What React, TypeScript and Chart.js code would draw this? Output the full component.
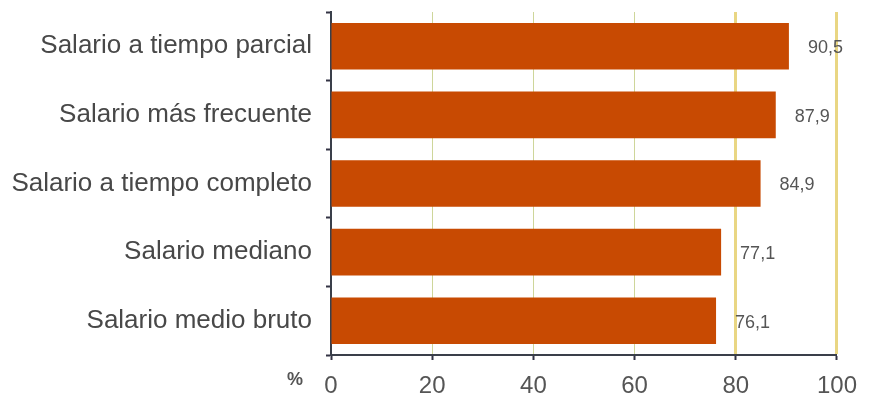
import React, { useEffect, useRef } from "react";
import { Chart, registerables } from "chart.js";

Chart.register(...registerables);

const categories = [
  "Salario a tiempo parcial",
  "Salario más frecuente",
  "Salario a tiempo completo",
  "Salario mediano",
  "Salario medio bruto",
];
const values = [90.5, 87.9, 84.9, 77.1, 76.1];
const valueLabels = ["90,5", "87,9", "84,9", "77,1", "76,1"];
const xTicks = [0, 20, 40, 60, 80, 100];
const axisUnit = "%";

const FONT = "'Liberation Sans', Arial, sans-serif";

export default function App() {
  const ref = useRef<HTMLCanvasElement | null>(null);

  useEffect(() => {
    document.body.style.margin = "0";
    const canvas = ref.current;
    if (!canvas) return;

    const valuePlugin = {
      id: "valueLabels",
      afterDatasetsDraw(chart: any) {
        const ctx = chart.ctx;
        const meta = chart.getDatasetMeta(0);
        ctx.save();
        ctx.font = `18px ${FONT}`;
        ctx.fillStyle = "#555";
        ctx.textAlign = "left";
        ctx.textBaseline = "middle";
        meta.data.forEach((bar: any, i: number) => {
          ctx.fillText(valueLabels[i], bar.x + 19, bar.y + 2);
        });
        const xs = chart.scales.x;
        ctx.font = `bold 18px ${FONT}`;
        ctx.fillStyle = "#555";
        ctx.textAlign = "center";
        ctx.fillText(axisUnit, xs.left - 36, chart.chartArea.bottom + 25);
        ctx.restore();
      },
    };

    const chart = new Chart(canvas, {
      type: "bar",
      data: {
        labels: categories,
        datasets: [
          {
            data: values,
            backgroundColor: "#c84a02",
            barPercentage: 0.68,
            categoryPercentage: 1,
          },
        ],
      },
      options: {
        indexAxis: "y",
        animation: false,
        responsive: false,
        maintainAspectRatio: false,
        layout: { padding: { top: 12, right: 27, left: 0, bottom: 0 } },
        plugins: {
          legend: { display: false },
          tooltip: { enabled: false },
        },
        scales: {
          x: {
            min: 0,
            max: 100,
            afterBuildTicks(scale: any) {
              scale.ticks = xTicks.map((v) => ({ value: v }));
            },
            afterFit(scale: any) {
              scale.height = 46;
            },
            ticks: {
              font: { size: 24, family: FONT },
              color: "#555",
              padding: 12,
              maxRotation: 0,
            },
            grid: {
              color: (c: any) =>
                c.tick && c.tick.value >= 80
                  ? "rgba(226,200,90,0.75)"
                  : c.tick && c.tick.value > 0
                  ? "rgba(190,200,120,0.75)"
                  : "rgba(0,0,0,0)",
              lineWidth: (c: any) => (c.tick && c.tick.value >= 80 ? 3 : 1),
              tickColor: "#334",
              tickLength: 5,
              tickWidth: 2,
              drawTicks: true,
            },
            border: { display: true, color: "#3a3f4a", width: 2, dash: [] },
          },
          y: {
            afterFit(scale: any) {
              scale.width = 331;
              scale.paddingTop = 0;
              scale.paddingBottom = 0;
            },
            ticks: {
              font: { size: 26, family: FONT },
              color: "#484848",
              padding: 14,
            },
            grid: {
              offset: true,
              drawOnChartArea: false,
              drawTicks: true,
              tickLength: 5,
              tickColor: "#334",
              tickWidth: 2,
            },
            border: { display: true, color: "#3a3f4a", width: 2 },
          },
        },
      },
      plugins: [valuePlugin],
    });

    return () => chart.destroy();
  }, []);

  return (
    <div style={{ width: 869, height: 401, background: "#fff" }}>
      <canvas ref={ref} width={869} height={401} style={{ display: "block" }} />
    </div>
  );
}
